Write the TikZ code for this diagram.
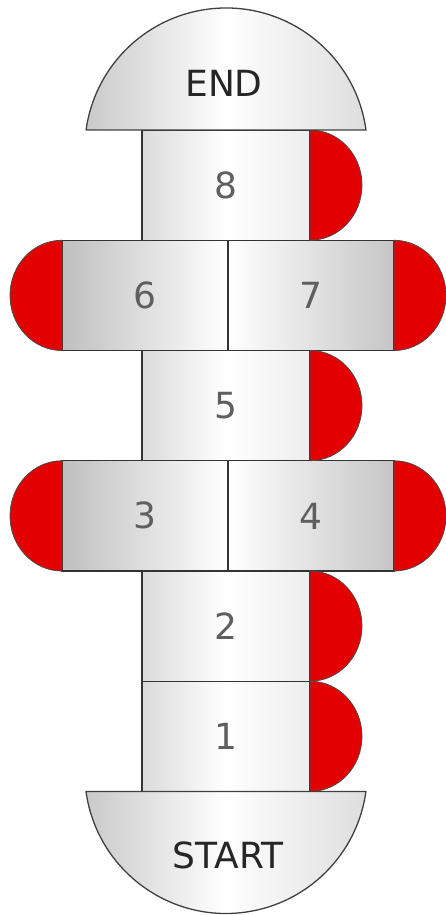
\documentclass[tikz,border=0pt]{standalone}
\usepackage{fontspec}
\setmainfont{DejaVu Sans}
\usetikzlibrary{positioning}
\definecolor{capred}{RGB}{226,0,0}
\definecolor{numgray}{RGB}{95,95,95}

\begin{document}
\begin{tikzpicture}[x=1pt, y=1pt,
		cell/.style={draw=black!80, line width=1.3pt, minimum width=168pt, minimum height=110.25pt,
				inner sep=0pt, outer sep=0pt, text=numgray, font=\fontsize{36}{40}\selectfont,
				left color=gray!28, right color=gray!14, middle color=white},
		lhalf/.style={cell, minimum width=166pt, left color=gray!50, right color=white},
		rhalf/.style={cell, minimum width=166pt, left color=white, right color=gray!45},
		redcap/.style={draw=black!70, line width=0.8pt, fill=capred},
		dome/.style={draw=black!75, line width=1.3pt, left color=gray!42, right color=gray!26, middle color=white},
		word/.style={text=black!85, font=\fontsize{36}{40}\selectfont}]
		\useasboundingbox (0,0) rectangle (446,915);
		% squares
		\node[cell] (c8) at (226,729.9) {8};
		\node[lhalf] (c6) at (145,619.6) {6};
		\node[rhalf, right=0pt of c6] (c7) {7};
		\node[cell] (c5) at (226,509.4) {5};
		\node[lhalf] (c3) at (145,399.1) {3};
		\node[rhalf, right=0pt of c3] (c4) {4};
		\node[cell] (c2) at (226,288.9) {2};
		\node[cell, below=0pt of c2] (c1) {1};
		% red half circles
		\foreach \c in {c8,c7,c5,c4,c2,c1}
		\draw[redcap] (\c.north east) arc[start angle=90, end angle=-90, x radius=52, y radius=55.125] -- cycle;
		\foreach \c in {c6,c3}
		\draw[redcap] (\c.north west) arc[start angle=90, end angle=270, x radius=52, y radius=55.125] -- cycle;
		% end and start
		\draw[dome] (86,785) -- (366,785) arc[start angle=7.85, end angle=172.15, radius=141.3] -- cycle;
		\draw[dome] (86,123.5) arc[start angle=187.85, end angle=352.15, radius=141.3] -- cycle;
		\node[word] (end) at (224,832) {END};
		\node[word] (start) at (228,60) {START};
\end{tikzpicture}
\end{document}
